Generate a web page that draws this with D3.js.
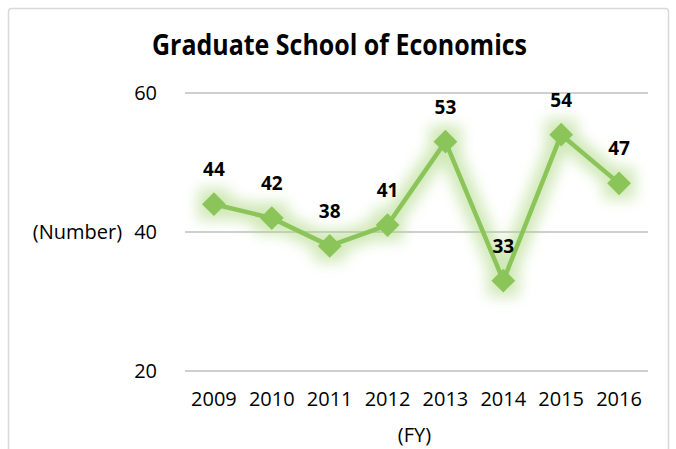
<!DOCTYPE html>
<html><head><meta charset="utf-8">
<script src="https://cdn.jsdelivr.net/npm/d3@7"></script>
<style>
html,body{margin:0;padding:0;background:#fff;}
svg{display:block;}
text{font-family:"Open Sans",sans-serif;fill:#000;}
</style></head>
<body>
<script>
const categories = ["2009","2010","2011","2012","2013","2014","2015","2016"];
const values = [44,42,38,41,53,33,54,47];
const yTicks = [20,40,60];
const title = "Graduate School of Economics";
const yTitle = "(Number)";
const xTitle = "(FY)";

const W = 676, H = 449;
const svg = d3.select("body").append("svg").attr("width", W).attr("height", H);

const defs = svg.append("defs");
const f = defs.append("filter").attr("id","glow").attr("x","-20%").attr("y","-40%").attr("width","140%").attr("height","180%");
f.append("feGaussianBlur").attr("stdDeviation", 7);

svg.append("rect").attr("x",8.5).attr("y",8.5).attr("width",660).attr("height",470)
  .attr("rx",3).attr("fill","#fff").attr("stroke","#d9d9d9").attr("stroke-width",1.5);

const plot = {left:185, right:648, top:93, bottom:371};
const x = d3.scaleBand().domain(categories).range([plot.left, plot.right]);
const y = d3.scaleLinear().domain([20,60]).range([plot.bottom, plot.top]);

// gridlines
svg.append("g").selectAll("line").data(yTicks).join("line")
  .attr("x1", plot.left).attr("x2", plot.right)
  .attr("y1", d=>y(d)).attr("y2", d=>y(d))
  .attr("stroke","#bfbfbf").attr("stroke-width",1.5);

// y axis labels
const yAxis = d3.axisLeft(y).tickValues(yTicks).tickSize(0).tickPadding(28);
const ya = svg.append("g").attr("transform",`translate(${plot.left},0)`).call(yAxis);
ya.select(".domain").remove();
ya.selectAll("text").style("font-family","'Open Sans',sans-serif").style("font-size","20px").attr("fill","#000");

// x axis labels
const xAxis = d3.axisBottom(x).tickSize(0).tickPadding(21);
const xa = svg.append("g").attr("transform",`translate(0,${plot.bottom})`).call(xAxis);
xa.select(".domain").remove();
xa.selectAll("text").style("font-family","'Open Sans',sans-serif").style("font-size","20px").attr("fill","#000");

// titles
svg.append("text").attr("x",339.5).attr("y",55).attr("text-anchor","middle")
  .attr("textLength",375).attr("lengthAdjust","spacingAndGlyphs")
  .style("font-size","28px").style("font-weight","bold").text(title);
svg.append("text").attr("x",77.5).attr("y",y(40)).attr("dy","0.35em").attr("text-anchor","middle")
  .style("font-size","20px").text(yTitle);
svg.append("text").attr("x",x("2012")+x.bandwidth()-2).attr("y",442).attr("text-anchor","middle")
  .style("font-size","20px").text(xTitle);

const cx = (d,i)=>x(categories[i])+x.bandwidth()/2;
const line = d3.line().x(cx).y(d=>y(d));
const diamond = d3.symbol().type(d3.symbolDiamond2).size(360);

// glow
const g1 = svg.append("g").attr("filter","url(#glow)").attr("opacity",0.55);
g1.append("path").datum(values).attr("d",line).attr("fill","none").attr("stroke","#a9d67c").attr("stroke-width",20).attr("stroke-linejoin","round");
g1.selectAll("path.m").data(values).join("path").attr("class","m")
  .attr("transform",(d,i)=>`translate(${cx(d,i)},${y(d)})`)
  .attr("d", d3.symbol().type(d3.symbolSquare).size(1000)).attr("fill","#a9d67c");

// line
svg.append("path").datum(values).attr("d",line).attr("fill","none")
  .attr("stroke","#8bc55a").attr("stroke-width",4.5).attr("stroke-linejoin","round");
svg.selectAll("path.mk").data(values).join("path").attr("class","mk")
  .attr("transform",(d,i)=>`translate(${cx(d,i)},${y(d)})`)
  .attr("d", diamond).attr("fill","#8bc55a");

// labels
svg.selectAll("text.lbl").data(values).join("text").attr("class","lbl")
  .attr("x",(d,i)=>cx(d,i)).attr("y",d=>y(d)-28).attr("text-anchor","middle")
  .style("font-size","19px").style("font-weight","bold").text(d=>d);
</script>
</body></html>
